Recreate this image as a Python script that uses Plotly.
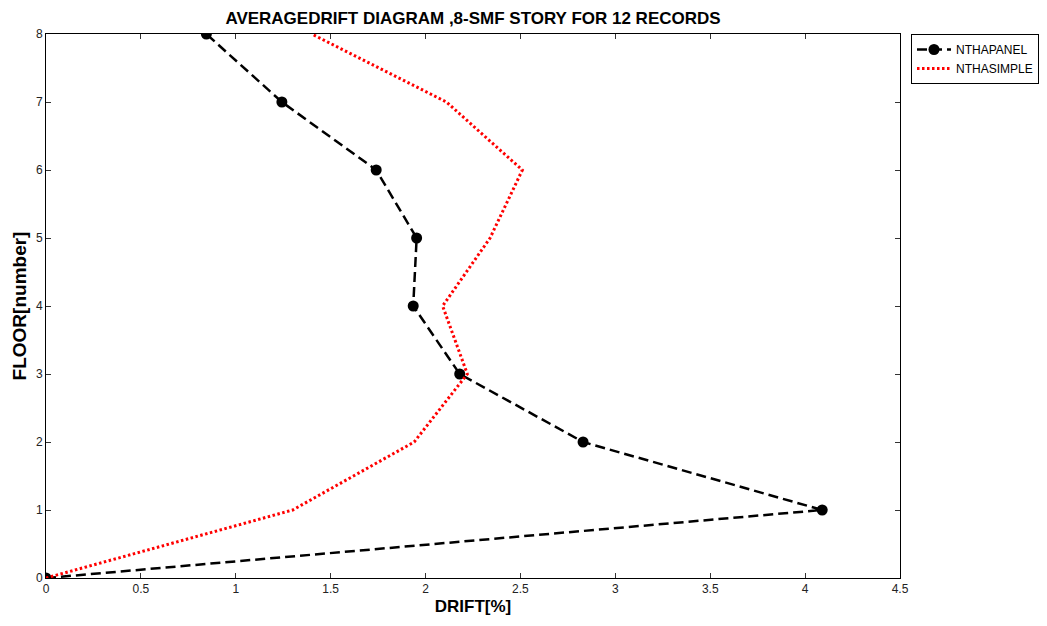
import plotly.graph_objects as go

floors = [0, 1, 2, 3, 4, 5, 6, 7, 8]
drift_panel = [0, 4.09, 2.83, 2.18, 1.935, 1.953, 1.74, 1.243, 0.845]
drift_simple = [0, 1.30, 1.94, 2.22, 2.09, 2.34, 2.51, 2.11, 1.40]

title_text = "AVERAGEDRIFT DIAGRAM ,8-SMF STORY FOR 12 RECORDS"
x_ticks = [0, 0.5, 1, 1.5, 2, 2.5, 3, 3.5, 4, 4.5]
x_tick_labels = ["0", "0.5", "1", "1.5", "2", "2.5", "3", "3.5", "4", "4.5"]
y_ticks = [0, 1, 2, 3, 4, 5, 6, 7, 8]

FONT = "Liberation Sans, Arial, sans-serif"

fig = go.Figure()
fig.add_trace(go.Scatter(
    x=drift_panel, y=floors, mode="lines+markers", name="NTHAPANEL",
    line=dict(color="black", width=2.5, dash="10px,5px"),
    marker=dict(color="black", size=11, symbol="circle"),
))
fig.add_trace(go.Scatter(
    x=drift_simple, y=floors, mode="lines", name="NTHASIMPLE",
    line=dict(color="#ff0000", width=3, dash="2.5px,2.5px"),
))

fig.update_layout(
    width=1047, height=626,
    paper_bgcolor="white", plot_bgcolor="white",
    margin=dict(l=38, r=155, t=26, b=56, autoexpand=False),
    font=dict(family=FONT, size=12, color="#222"),
    title=dict(text="<b>" + title_text + "</b>", x=(38 + 892) / 2 / 1047, xanchor="center",
               y=1 - 10 / 626, yanchor="middle",
               font=dict(family=FONT, size=17, color="black")),
    legend=dict(x=(903 - 38) / 854, xanchor="left", y=1.0, yanchor="top",
                bordercolor="black", borderwidth=1, bgcolor="white",
                font=dict(family=FONT, size=12, color="black"),
                tracegroupgap=0, itemwidth=34),
    showlegend=True,
)
fig.update_xaxes(
    range=[0, 4.5], tickvals=x_ticks, ticktext=x_tick_labels,
    ticks="inside", ticklen=5, tickcolor="#333", mirror="ticks",
    showline=True, linecolor="black", linewidth=1, showgrid=False, zeroline=False,
    tickfont=dict(family=FONT, size=12, color="#222"),
    title=dict(text="<b>DRIFT[%]</b>", font=dict(family=FONT, size=17, color="black"), standoff=4),
)
fig.update_yaxes(
    range=[0, 8], tickvals=y_ticks,
    ticks="inside", ticklen=5, tickcolor="#333", mirror="ticks",
    showline=True, linecolor="black", linewidth=1, showgrid=False, zeroline=False,
    tickfont=dict(family=FONT, size=12, color="#222"),
    title=dict(text="<b>FLOOR[number]</b>", font=dict(family=FONT, size=19, color="black"), standoff=4),
)

fig.write_html("out.html")
